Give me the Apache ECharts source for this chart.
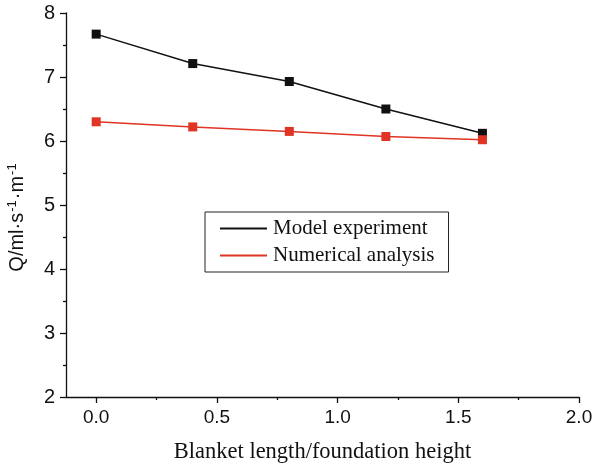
<!DOCTYPE html>
<html>
<head>
<meta charset="utf-8">
<script src="https://cdn.jsdelivr.net/npm/echarts@6/dist/echarts.min.js"></script>
<style>
  html, body { margin: 0; padding: 0; background: #fff; }
  #chart { width: 593px; height: 466px; }
</style>
</head>
<body>
<div id="chart"></div>
<script>
  // values
  var ratio = [0, 0.4, 0.8, 1.2, 1.6];
  var modelExp = [7.67, 7.21, 6.93, 6.50, 6.12];
  var numerical = [6.30, 6.22, 6.15, 6.07, 6.02];
  var xMajor = [0, 0.5, 1.0, 1.5, 2.0];
  var xMinor = [0.25, 0.75, 1.25, 1.75];

  function pairs(xs, ys) {
    return xs.map(function (x, i) { return [x, ys[i]]; });
  }

  var chart = echarts.init(document.getElementById('chart'));
  var axisFont = 'Liberation Sans, Arial, sans-serif';
  var serifFont = 'Liberation Serif, Times New Roman, serif';

  var option = {
    animation: false,
    grid: { left: 66, right: 14, top: 13, bottom: 69, outerBoundsMode: 'none' },
    legend: {
      orient: 'vertical',
      left: 205,
      top: 212,
      width: 245,
      padding: [6, 14, 6, 15],
      itemGap: 6,
      itemWidth: 47,
      itemHeight: 2,
      icon: 'rect',
      borderColor: '#222',
      borderWidth: 1,
      textStyle: { fontFamily: serifFont, fontSize: 21, color: '#111', padding: [0, 0, 0, 1] },
      data: ['Model experiment', 'Numerical analysis']
    },
    xAxis: [{
      type: 'value',
      min: -0.125,
      max: 2,
      name: 'Blanket length/foundation height',
      nameLocation: 'middle',
      nameGap: 44,
      nameTextStyle: { fontFamily: serifFont, fontSize: 22.5, color: '#111' },
      axisLine: { onZero: false, lineStyle: { color: '#111', width: 1.3 } },
      axisTick: { customValues: xMajor, length: 6, lineStyle: { color: '#111', width: 1.3 } },
      axisLabel: {
        customValues: xMajor,
        margin: 11,
        fontFamily: axisFont,
        fontSize: 19,
        color: '#111',
        formatter: function (v) { return v.toFixed(1); }
      },
      splitLine: { show: false }
    }, {
      type: 'value',
      min: -0.125,
      max: 2,
      position: 'bottom',
      axisLine: { show: false, onZero: false },
      axisTick: { customValues: xMinor, length: 3, lineStyle: { color: '#111', width: 1.3 } },
      axisLabel: { show: false },
      splitLine: { show: false }
    }],
    yAxis: {
      type: 'value',
      min: 2,
      max: 8,
      interval: 1,
      name: 'Q/ml·s{sup|-1}·m{sup|-1}',
      nameLocation: 'middle',
      nameGap: 38,
      nameRotate: 90,
      nameTextStyle: {
        fontFamily: axisFont,
        fontSize: 20,
        color: '#111',
        padding: [0, 24, 0, 0],
        rich: {
          sup: { fontFamily: axisFont, fontSize: 13, color: '#111', verticalAlign: 'top', padding: [0, 1, 9, 1] }
        }
      },
      axisLine: { show: true, onZero: false, lineStyle: { color: '#111', width: 1.3 } },
      axisTick: { length: 6, lineStyle: { color: '#111', width: 1.3 } },
      minorTick: { show: true, splitNumber: 2, length: 3, lineStyle: { color: '#111', width: 1.3 } },
      axisLabel: { margin: 11, fontFamily: axisFont, fontSize: 20, color: '#111' },
      splitLine: { show: false }
    },
    series: [{
      name: 'Model experiment',
      type: 'line',
      data: pairs(ratio, modelExp),
      symbol: 'rect',
      symbolSize: 9,
      color: '#111',
      lineStyle: { width: 1.5, color: '#111' },
      itemStyle: { color: '#111' }
    }, {
      name: 'Numerical analysis',
      type: 'line',
      data: pairs(ratio, numerical),
      symbol: 'rect',
      symbolSize: 9,
      color: '#e03424',
      lineStyle: { width: 1.5, color: '#e03424' },
      itemStyle: { color: '#e03424' }
    }]
  };

  chart.setOption(option);
</script>
</body>
</html>
